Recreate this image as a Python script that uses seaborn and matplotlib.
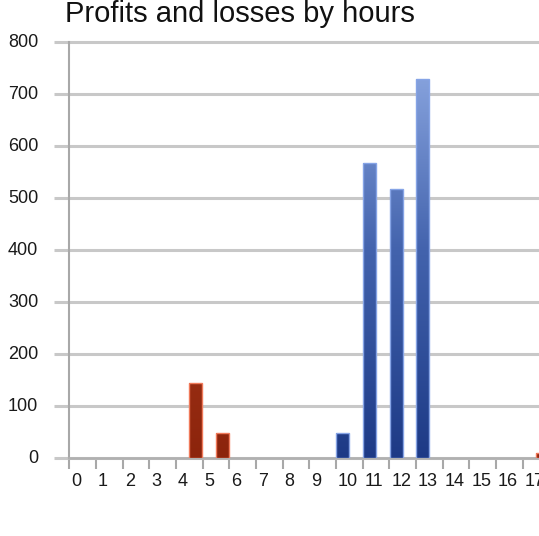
import numpy as np
import pandas as pd
import matplotlib
matplotlib.use("Agg")
import matplotlib.pyplot as plt
import matplotlib.transforms as mtransforms
from matplotlib.colors import LinearSegmentedColormap
import seaborn as sns

# ---- data ----
hours = list(range(18))
profits = [0, 0, 0, 0, 0, 0, 0, 0, 0, 0, 48, 568, 518, 730, 0, 0, 0, 0]
losses = [0, 0, 0, 0, 145, 48, 0, 0, 0, 0, 0, 0, 0, 0, 0, 0, 0, 10]
y_ticks = [0, 100, 200, 300, 400, 500, 600, 700, 800]
title = "Profits and losses by hours"

df = pd.DataFrame({
    "hour": hours * 2,
    "kind": ["Profit"] * len(hours) + ["Loss"] * len(hours),
    "value": profits + losses,
})

sns.set_theme(style="white")
plt.rcParams["font.family"] = ["Liberation Sans", "DejaVu Sans"]

W, H = 539, 536
fig = plt.figure(figsize=(W / 100, H / 100), dpi=100)
ax_left, ax_bottom_px, ax_top_px = 69.3, 458.3, 42.3
ax = fig.add_axes([ax_left / W, 1 - ax_bottom_px / H, 1 - ax_left / W,
                   (ax_bottom_px - ax_top_px) / H])

BLUE, RED = "#3a5aa8", "#8a2008"
sns.barplot(data=df, x="hour", y="value", hue="kind", order=hours,
            hue_order=["Profit", "Loss"], palette={"Profit": BLUE, "Loss": RED},
            width=0.97, gap=0, legend=False, ax=ax, zorder=3)

cmaps = {
    "blue": LinearSegmentedColormap.from_list("b", ["#1d3a86", "#4363ad", "#93aee6"]),
    "red": LinearSegmentedColormap.from_list("r", ["#8c240c", "#a83a1c", "#d06040"]),
}
edges = {"blue": "#86a4e6", "red": "#f07a5a"}
grad = np.linspace(0, 1, 256).reshape(-1, 1)

for p in list(ax.patches):
    h = p.get_height()
    if h <= 0:
        p.set_visible(False)
        continue
    fc = p.get_facecolor()
    kind = "blue" if fc[2] > fc[0] else "red"
    x0 = p.get_x()
    x1 = x0 + p.get_width()
    im = ax.imshow(grad, extent=[x0, x1, 0, 800], origin="lower", aspect="auto",
                   cmap=cmaps[kind], zorder=3.5, interpolation="bilinear")
    im.set_clip_path(p)
    p.set_facecolor("none")
    p.set_edgecolor(edges[kind])
    p.set_linewidth(1.0)
    p.set_zorder(4)

ax.set_xlim(-0.5, 17.11)
ax.set_ylim(0, 800)
ax.set_xlabel("")
ax.set_ylabel("")

for s in ["top", "right"]:
    ax.spines[s].set_visible(False)
ax.spines["left"].set_color("#a8a8a8")
ax.spines["left"].set_linewidth(1.5)
ax.spines["bottom"].set_color("#b0b0b0")
ax.spines["bottom"].set_linewidth(1.8)

ax.set_axisbelow(True)
ax.yaxis.grid(True, color="#c8c8c8", linewidth=2.2)
ax.xaxis.grid(False)
for gl in ax.get_ygridlines():
    gl.set_clip_on(False)

ax.set_yticks(y_ticks)
ax.set_yticklabels([str(v) for v in y_ticks])
ax.tick_params(axis="y", left=True, length=10.8, width=2.2, color="#c8c8c8",
               pad=11.5, labelsize=13, labelcolor="#1a1a1a")

ax.set_xticks(np.arange(len(hours)) - 0.5)
ax.set_xticklabels([str(h) for h in hours])
ax.tick_params(axis="x", bottom=True, length=8, width=1.5, color="#a8a8a8",
               pad=2.7, labelsize=13, labelcolor="#1a1a1a")

off_x = mtransforms.ScaledTranslation(2 / 100, 0, fig.dpi_scale_trans)
for lab in ax.get_xticklabels():
    lab.set_ha("left")
    lab.set_transform(lab.get_transform() + off_x)
off_y = mtransforms.ScaledTranslation(0, 2 / 100, fig.dpi_scale_trans)
for lab in ax.get_yticklabels():
    lab.set_transform(lab.get_transform() + off_y)

fig.text(65 / W, 1 - 21.5 / H, title, fontsize=21, ha="left", va="baseline",
         color="#111111")

fig.savefig("out.png", dpi=100)
